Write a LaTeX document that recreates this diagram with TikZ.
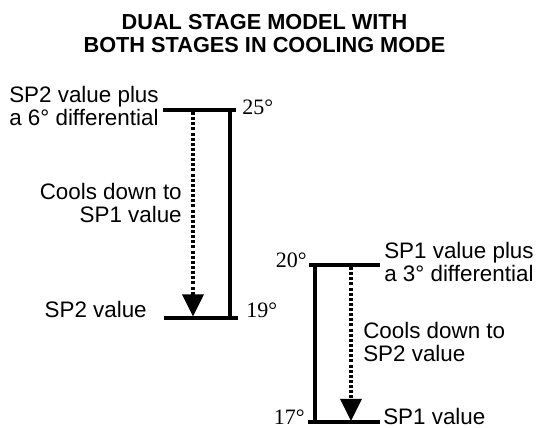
\documentclass[tikz,border=0pt]{standalone}
\usepackage{fontspec}
\setmainfont{Liberation Sans}
\newfontfamily\degfont{Liberation Serif}
\usetikzlibrary{arrows.meta}
\begin{document}
\begin{tikzpicture}[x=0.75pt,y=-0.75pt,
  bar/.style={line width=2.3pt},
  cool/.style={line width=2.4pt, dash pattern=on 2.25pt off 1.6pt,
    -{Triangle[width=15.75pt,length=16.5pt]}},
  txt/.style={inner sep=0pt, font=\fontsize{16.8pt}{17.6pt}\selectfont},
  deg/.style={inner sep=0pt, font=\degfont\fontsize{16.5pt}{18pt}\selectfont},
  ttl/.style={inner sep=0pt, align=center, font=\bfseries\fontsize{16.3pt}{17.25pt}\selectfont}
]
\useasboundingbox (0,0) rectangle (537,428);
% title
\node[ttl, anchor=base] (title) at (264.5,53) {DUAL STAGE MODEL WITH\\BOTH STAGES IN COOLING MODE};
% left stage
\coordinate (a1) at (163,110);
\coordinate (a2) at (236,110);
\coordinate (b1) at (164,318);
\coordinate (b2) at (238,318);
\coordinate (av) at (230,110);
\coordinate (bv) at (230,318);
\coordinate (as) at (193,112);
\coordinate (ae) at (193,316.5);
\draw[bar] (a1) -- (a2);
\draw[bar] (b1) -- (b2);
\draw[bar] (av) -- (bv);
\draw[cool] (as) -- (ae);
\node[txt, anchor=base west, align=left] (l1) at (9,126) {SP2 value plus\\a 6° differential};
\node[txt, anchor=base east, align=right] (l2) at (182,223) {Cools down to\\SP1 value};
\node[txt, anchor=base east] (l3) at (147,318) {SP2 value};
\node[deg, anchor=base west] (d25) at (242,115) {25°};
\node[deg, anchor=base west] (d19) at (246,318) {19°};
% right stage
\coordinate (c1) at (309,265);
\coordinate (c2) at (380,265);
\coordinate (e1) at (308,422);
\coordinate (e2) at (380,422);
\coordinate (cv) at (315,265);
\coordinate (ev) at (315,422);
\coordinate (cs) at (351,267);
\coordinate (ce) at (351,421);
\draw[bar] (c1) -- (c2);
\draw[bar] (e1) -- (e2);
\draw[bar] (cv) -- (ev);
\draw[cool] (cs) -- (ce);
\node[txt, anchor=base west, align=left] (r1) at (384,282) {SP1 value plus\\a 3° differential};
\node[txt, anchor=base west, align=left] (r2) at (363,362) {Cools down to\\SP2 value};
\node[txt, anchor=base west] (r3) at (383,425) {SP1 value};
\node[deg, anchor=base east] (d20) at (307,268) {20°};
\node[deg, anchor=base east] (d17) at (305,425) {17°};
\end{tikzpicture}
\end{document}
